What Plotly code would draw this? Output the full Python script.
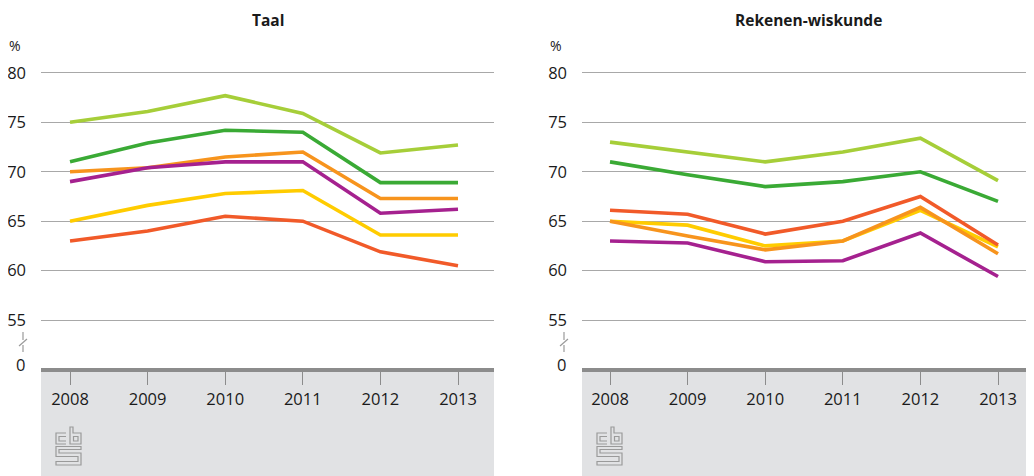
import plotly.graph_objects as go

W, H = 1034, 476
O = 8  # page body margin offset in the browser
ML, MR = 0, 0
MT = 63 - O
MB = H - (368 - O)
PH = H - MT - MB  # plot height in px

years = [2008, 2009, 2010, 2011, 2012, 2013]

series_names = ["Reeks 1", "Reeks 2", "Reeks 3", "Reeks 4", "Reeks 5", "Reeks 6"]
series_colors = ["#a6ce39", "#3aaa35", "#ffcc00", "#f7941d", "#a5218f", "#f15a29"]

taal_lichtgroen = [75.0, 76.1, 77.7, 75.9, 71.9, 72.7]
taal_groen = [71.0, 72.9, 74.2, 74.0, 68.9, 68.9]
taal_geel = [65.0, 66.6, 67.8, 68.1, 63.6, 63.6]
taal_oranje = [70.0, 70.4, 71.5, 72.0, 67.3, 67.3]
taal_paars = [69.0, 70.4, 71.0, 71.0, 65.8, 66.2]
taal_rood = [63.0, 64.0, 65.5, 65.0, 61.9, 60.5]

rek_lichtgroen = [73.0, 72.0, 71.0, 72.0, 73.4, 69.1]
rek_groen = [71.0, 69.7, 68.5, 69.0, 70.0, 67.0]
rek_geel = [65.0, 64.6, 62.5, 63.0, 66.1, 62.4]
rek_oranje = [65.0, 63.5, 62.1, 63.0, 66.4, 61.7]
rek_paars = [63.0, 62.8, 60.9, 61.0, 63.8, 59.4]
rek_rood = [66.1, 65.7, 63.7, 65.0, 67.5, 62.6]

panel_titles = ["Taal", "Rekenen-wiskunde"]
y_tickvals = [55, 60, 65, 70, 75, 80]
y_ticktext = ["55", "60", "65", "70", "75", "80"]
zero_label_value = 50.55

taal = [taal_lichtgroen, taal_groen, taal_geel, taal_oranje, taal_paars, taal_rood]
rek = [rek_lichtgroen, rek_groen, rek_geel, rek_oranje, rek_paars, rek_rood]

FONT = "Open Sans"
fig = go.Figure()

for vals, name, col in zip(taal, series_names, series_colors):
    fig.add_trace(go.Scatter(x=years, y=vals, mode="lines", name=name,
                             line=dict(color=col, width=3.6), xaxis="x", yaxis="y",
                             showlegend=False))
for vals, name, col in zip(rek, series_names, series_colors):
    fig.add_trace(go.Scatter(x=years, y=vals, mode="lines", name=name,
                             line=dict(color=col, width=3.6), xaxis="x2", yaxis="y2",
                             showlegend=False))


def px(x):
    """window x pixel -> paper x"""
    return (x - O) / W


def py(y):
    """window y pixel -> paper y"""
    return (H - MB - (y - O)) / PH


dom1 = [px(41), px(494)]
dom2 = [px(582), 1.0]

common_x = dict(tickvals=years, ticktext=[str(y) for y in years], showgrid=False,
                zeroline=False, showline=True, linecolor="#8c8c8c", linewidth=4,
                ticks="outside", ticklen=13, tickwidth=1.2, tickcolor="#8c8c8c",
                tickfont=dict(family=FONT, size=16.5, color="#1a1a1a"),
                fixedrange=True)
common_y = dict(range=[50.15, 81.0], tickvals=y_tickvals, ticktext=y_ticktext,
                showgrid=True, gridcolor="#a8a8a8", gridwidth=1.2, zeroline=False,
                showline=False, ticks="", ticklabelstandoff=14,
                tickfont=dict(family=FONT, size=16.5, color="#1a1a1a"),
                domain=[0, 1], fixedrange=True)

fig.update_layout(
    width=W, height=H,
    margin=dict(l=ML, r=MR, t=MT, b=MB),
    paper_bgcolor="white", plot_bgcolor="white",
    xaxis=dict(domain=dom1, range=[2007.626, 2013.464], anchor="y", **common_x),
    xaxis2=dict(domain=dom2, range=[2007.639, 2013.567], anchor="y2", **common_x),
    yaxis=dict(anchor="x", **common_y),
    yaxis2=dict(anchor="x2", **common_y),
    showlegend=False,
)

shapes = []
annotations = []
for i, (dom, xoff) in enumerate([(dom1, 0), (dom2, 541)]):
    # grey footer box
    shapes.append(dict(type="rect", xref="paper", yref="paper",
                       x0=dom[0], x1=dom[1], y0=py(476 + O), y1=py(369),
                       fillcolor="#e1e2e4", line=dict(width=0), layer="below"))
    # axis break symbol
    bx = 23 + xoff
    for (x0, y0, x1, y1) in [(bx, 332, bx, 340), (bx - 4, 346, bx + 4, 339), (bx, 345, bx, 352)]:
        shapes.append(dict(type="line", xref="paper", yref="paper",
                           x0=px(x0), y0=py(y0), x1=px(x1), y1=py(y1),
                           line=dict(color="#9a9a9a", width=1.2)))

    # cbs logo
    def path(pts, close=False):
        s = "M " + " L ".join(f"{px(x + xoff):.5f},{py(y):.5f}" for x, y in pts)
        return s + (" Z" if close else "")
    logo_paths = [
        path([(66, 433), (56, 433), (56, 444), (66, 444)]),
        path([(66, 436.5), (59, 436.5), (59, 441), (66, 441)]),
        path([(70, 427), (70, 444), (81, 444), (81, 433), (73, 433), (73, 427)], True),
        path([(73.5, 436.5), (78, 436.5), (78, 441), (73.5, 441)], True),
        path([(81, 446.5), (56, 446.5), (56, 456.5), (78, 456.5), (78, 461.5), (56, 461.5),
              (56, 465), (81, 465), (81, 453), (59, 453), (59, 449.5), (81, 449.5)], True),
    ]
    for p in logo_paths:
        shapes.append(dict(type="path", xref="paper", yref="paper", path=p,
                           line=dict(color="#9a9a9a", width=1.2)))
    # panel title
    annotations.append(dict(text=f"<b>{panel_titles[i]}</b>", xref="paper", yref="paper",
                            x=(px(41 + xoff) + px(494 + xoff)) / 2, y=py(19.5),
                            xanchor="center", yanchor="middle", borderpad=0,
                            showarrow=False, font=dict(family=FONT, size=15.5, color="#1a1a1a")))
    # percent label
    annotations.append(dict(text="%", xref="paper", yref="paper",
                            x=px(7 + xoff), y=py(45), xanchor="left", yanchor="middle",
                            showarrow=False, font=dict(family=FONT, size=14, color="#1a1a1a")))
    # zero label
    annotations.append(dict(text="0", xref="paper", yref="y" if i == 0 else "y2",
                            x=px(27 + xoff), y=zero_label_value, xanchor="right", yanchor="middle",
                            showarrow=False, font=dict(family=FONT, size=16.5, color="#1a1a1a")))

fig.update_layout(shapes=shapes, annotations=annotations)
fig.write_html("out.html")
